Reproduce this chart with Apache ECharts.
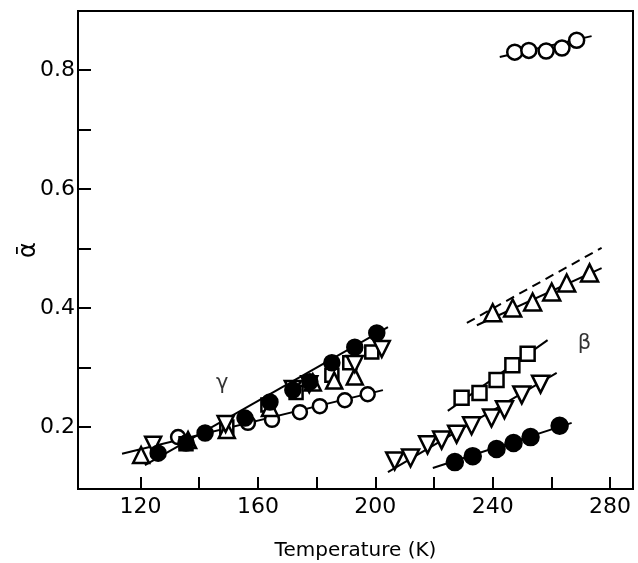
<!DOCTYPE html>
<html>
<head>
<meta charset="utf-8">
<script src="https://cdn.jsdelivr.net/npm/echarts@6/dist/echarts.min.js"></script>
<style>html,body{margin:0;padding:0;background:#fff}#c{width:638px;height:563px}</style>
</head>
<body>
<div id="c"></div>
<script>
// ---- axis ticks ----
const xTicks = [120, 140, 160, 180, 200, 220, 240, 260, 280];
const xLabels = [120, 160, 200, 240, 280];
const yTicks = [0.2, 0.3, 0.4, 0.5, 0.6, 0.7, 0.8];
const yLabels = [0.2, 0.4, 0.6, 0.8];

// ---- gamma relaxation data [T (K), alpha] ----
const gammaFilledCircle = [[126.0,0.156],[135.5,0.173],[142.0,0.190],[155.6,0.215],[164.1,0.242],[171.9,0.262],[177.7,0.276],[185.2,0.308],[193.0,0.334],[200.5,0.358]];
const gammaOpenCircle = [[132.8,0.183],[156.6,0.207],[164.8,0.212],[174.3,0.225],[181.1,0.235],[189.6,0.245],[197.4,0.255]];
const gammaUpTriangle = [[120.2,0.153],[136.2,0.178],[149.4,0.195],[164.1,0.232],[178.7,0.275],[186.0,0.278],[193.0,0.285]];
const gammaDownTriangle = [[124.3,0.170],[149.0,0.205],[171.9,0.264],[177.5,0.272],[193.0,0.306],[202.2,0.331]];
const gammaSquare = [[135.5,0.172],[149.4,0.200],[163.4,0.237],[173.0,0.258],[185.2,0.287],[191.3,0.308],[198.8,0.326]];

// ---- beta relaxation data ----
const betaTopCircle = [[247.5,0.830],[252.3,0.833],[258.2,0.832],[263.6,0.837],[268.6,0.850]];
const betaUpTriangle = [[240.0,0.392],[246.8,0.400],[253.6,0.410],[260.1,0.427],[265.2,0.442],[273.0,0.459]];
const betaSquare = [[229.4,0.249],[235.5,0.257],[241.3,0.279],[246.7,0.304],[251.9,0.323]];
const betaDownTriangle = [[206.6,0.143],[212.0,0.148],[217.8,0.170],[222.6,0.178],[227.7,0.188],[232.8,0.202],[239.6,0.215],[244.0,0.229],[249.9,0.254],[256.3,0.272]];
const betaFilledCircle = [[227.1,0.141],[233.2,0.151],[241.3,0.163],[247.1,0.173],[252.9,0.183],[262.8,0.202]];

// ---- fitted lines (end points) ----
const lineGammaSteep = [[121.5,0.136],[204.3,0.368]];
const lineGammaShallow = [[113.7,0.155],[202.6,0.262]];
const lineTopCircle = [[242.4,0.822],[273.7,0.857]];
const lineBetaTriangle = [[234.6,0.371],[277.1,0.467]];
const lineBetaDashed = [[231.2,0.375],[277.1,0.501]];
const lineBetaSquare = [[224.7,0.227],[258.7,0.346]];
const lineBetaDown = [[204.3,0.124],[261.8,0.291]];
const lineBetaFilled = [[219.6,0.131],[266.9,0.207]];

// ---- annotations ----
const greekLabels = [['γ',147.8,0.273],['β',271.3,0.341]];

const FONT = 'DejaVu Sans';
function lineSeries(data, dashed) {
  return {type:'line', data:data, symbol:'none', silent:true, z:2,
    lineStyle:{color:'#000', width:2, type: dashed ? [9,6] : 'solid'}};
}
function markSeries(data, symbol, filled, size, rotate) {
  return {type:'scatter', data:data, symbol:symbol, symbolSize:size, symbolRotate:rotate||0, z:3,
    itemStyle:{color: filled ? '#000' : '#fff', borderColor:'#000', borderWidth:2.5, opacity:1}};
}

const series = [
  lineSeries(lineGammaSteep), lineSeries(lineGammaShallow), lineSeries(lineTopCircle),
  lineSeries(lineBetaTriangle), lineSeries(lineBetaDashed, true), lineSeries(lineBetaSquare),
  lineSeries(lineBetaDown), lineSeries(lineBetaFilled),
  markSeries(gammaOpenCircle, 'circle', false, 14),
  markSeries(gammaSquare, 'rect', false, 13),
  markSeries(gammaUpTriangle, 'triangle', false, 16),
  markSeries(gammaDownTriangle, 'triangle', false, 16, 180),
  markSeries(gammaFilledCircle, 'circle', true, 15),
  markSeries(betaTopCircle, 'circle', false, 15),
  markSeries(betaUpTriangle, 'triangle', false, 17),
  markSeries(betaSquare, 'rect', false, 14),
  markSeries(betaDownTriangle, 'triangle', false, 17, 180),
  markSeries(betaFilledCircle, 'circle', true, 16),
  {type:'scatter', data: greekLabels.map(g => ({value:[g[1], g[2]], name:g[0]})), symbolSize:1, z:4,
    itemStyle:{color:'transparent'},
    label:{show:true, position:'inside', formatter: p => p.name, fontFamily:FONT, fontSize:21, color:'#000', textBorderWidth:0}}
];

const chart = echarts.init(document.getElementById('c'), null, {renderer:'canvas'});
chart.setOption({
  animation:false,
  backgroundColor:'#fff',
  grid:{left:78, right:5, top:11, bottom:74, outerBoundsMode:'none', show:true, borderColor:'#000', borderWidth:2, backgroundColor:'transparent'},
  xAxis:{type:'value', min:98.7, max:287.8,
    name:'Temperature (K)', nameLocation:'middle', nameGap:52, nameMoveOverlap:false,
    nameTextStyle:{fontFamily:FONT, fontSize:20, color:'#000'},
    axisLine:{show:true, lineStyle:{color:'#000', width:2}},
    axisTick:{show:true, inside:true, length:12, lineStyle:{color:'#000', width:2}, customValues:xTicks},
    axisLabel:{fontFamily:FONT, fontSize:22, color:'#000', margin:7, customValues:xLabels},
    splitLine:{show:false}},
  yAxis:{type:'value', min:0.0958, max:0.8992,
    name:'ᾱ', nameLocation:'middle', nameGap:37, nameRotate:90, nameMoveOverlap:false,
    nameTextStyle:{fontFamily:FONT, fontSize:24, color:'#000'},
    axisLine:{show:true, lineStyle:{color:'#000', width:2}},
    axisTick:{show:true, inside:true, length:13, lineStyle:{color:'#000', width:2}, customValues:yTicks},
    axisLabel:{fontFamily:FONT, fontSize:22, color:'#000', margin:3, customValues:yLabels, formatter: v => v.toFixed(1)},
    splitLine:{show:false}},
  series: series
});
</script>
</body>
</html>
